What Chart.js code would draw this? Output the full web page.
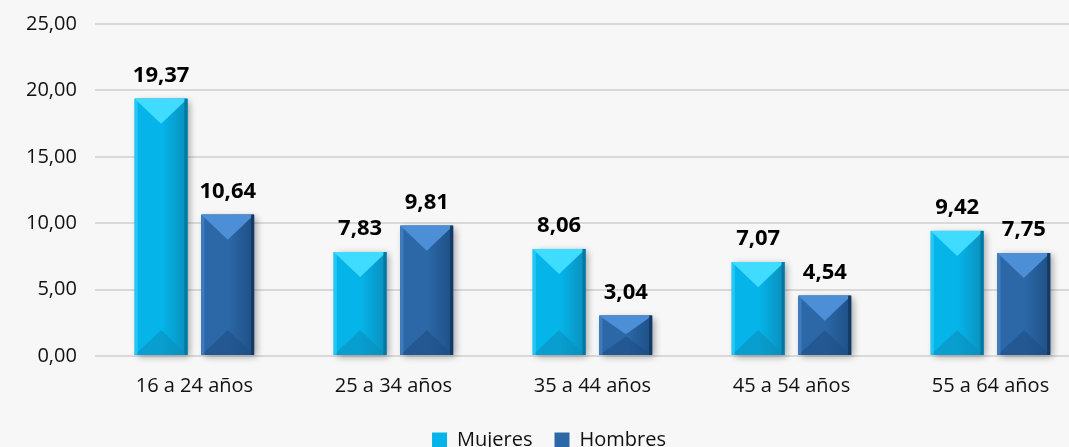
<!DOCTYPE html>
<html>
<head>
<meta charset="utf-8">
<script src="https://cdn.jsdelivr.net/npm/chart.js@4/dist/chart.umd.min.js"></script>
<style>
  html, body { margin: 0; padding: 0; background: #f7f7f7; overflow: hidden; }
  #wrap { position: relative; top: -6px; width: 1090px; height: 453px; }
</style>
</head>
<body>
<div id="wrap"><canvas id="myChart"></canvas></div>
<script>
// Tasa por grupo de edad y sexo
const ageGroups = ['16 a 24 años', '25 a 34 años', '35 a 44 años', '45 a 54 años', '55 a 64 años'];
const mujeres = [19.37, 7.83, 8.06, 7.07, 9.42];
const hombres = [10.64, 9.81, 3.04, 4.54, 7.75];

const fmt = v => v.toFixed(2).replace('.', ',');

// shades for the bevelled look
const shades = [
  { main: '#05b5ea', light: '#3fdcff', dark: '#0a8fbd', edge: '#0677a0' },
  { main: '#2c68a8', light: '#4d8fd6', dark: '#1e4f85', edge: '#143a63' }
];

const bevelBars = {
  id: 'bevelBars',
  afterDatasetsDraw(chart) {
    const ctx = chart.ctx;
    chart.data.datasets.forEach((ds, i) => {
      const s = shades[i];
      chart.getDatasetMeta(i).data.forEach((bar, j) => {
        const w = bar.width;
        const l = bar.x - w / 2, r = bar.x + w / 2;
        const t = bar.y, b = bar.base;
        const d = Math.min(w / 2, (b - t) / 2);
        ctx.save();
        // shadow
        ctx.shadowColor = 'rgba(0,0,0,0.35)';
        ctx.shadowBlur = 7;
        ctx.shadowOffsetX = 3;
        ctx.shadowOffsetY = 2;
        ctx.fillStyle = s.main;
        ctx.fillRect(l, t, w, b - t);
        ctx.restore();

        ctx.save();
        const g = ctx.createLinearGradient(l, 0, r, 0);
        g.addColorStop(0, s.main);
        g.addColorStop(0.5, s.main);
        g.addColorStop(1, s.dark);
        ctx.fillStyle = g;
        ctx.fillRect(l, t, w, b - t);
        // top bevel
        ctx.fillStyle = s.light;
        ctx.beginPath();
        ctx.moveTo(l, t); ctx.lineTo(r, t); ctx.lineTo(bar.x, t + d * 0.95); ctx.closePath();
        ctx.fill();
        // bottom bevel
        ctx.fillStyle = s.dark;
        ctx.globalAlpha = 0.6;
        ctx.beginPath();
        ctx.moveTo(l, b); ctx.lineTo(r, b); ctx.lineTo(bar.x, b - d * 0.95); ctx.closePath();
        ctx.fill();
        ctx.globalAlpha = 1;
        // side edges
        ctx.fillStyle = s.light;
        ctx.globalAlpha = 0.5;
        ctx.fillRect(l, t, 3, b - t);
        ctx.globalAlpha = 1;
        ctx.fillStyle = s.edge;
        ctx.fillRect(r - 3, t, 3, b - t);
        ctx.restore();

        // value label
        ctx.save();
        ctx.fillStyle = '#000';
        ctx.font = 'bold 22px "Open Sans", sans-serif';
        ctx.textAlign = 'center';
        ctx.textBaseline = 'bottom';
        ctx.fillText(fmt(ds.data[j]), bar.x, t - 12);
        ctx.restore();
      });
    });
  }
};

const ctx = document.getElementById('myChart');
const myChart = new Chart(ctx, {
  type: 'bar',
  data: {
    labels: ageGroups,
    datasets: [
      { label: 'Mujeres', data: mujeres, backgroundColor: shades[0].main },
      { label: 'Hombres', data: hombres, backgroundColor: shades[1].main }
    ]
  },
  options: {
    responsive: true,
    maintainAspectRatio: false,
    animation: false,
    categoryPercentage: 0.67,
    barPercentage: 0.79,
    layout: { padding: { top: 0, right: 0, left: 8, bottom: -13 } },
    scales: {
      x: {
        grid: { display: false },
        border: { display: false },
        ticks: { color: '#111', font: { family: '"Open Sans", sans-serif', size: 20 }, padding: 10 }
      },
      y: {
        min: 0, max: 25,
        ticks: {
          stepSize: 5,
          color: '#111',
          font: { family: '"Open Sans", sans-serif', size: 20 },
          padding: 18,
          callback: v => fmt(v)
        },
        grid: { color: '#d9d9d9', lineWidth: 2, drawTicks: false },
        border: { display: false }
      }
    },
    plugins: {
      legend: {
        position: 'bottom',
        labels: {
          boxWidth: 15, boxHeight: 15,
          color: '#111',
          font: { family: '"Open Sans", sans-serif', size: 20 },
          padding: 22
        }
      },
      tooltip: { enabled: false }
    }
  },
  plugins: [bevelBars]
});
</script>
</body>
</html>
